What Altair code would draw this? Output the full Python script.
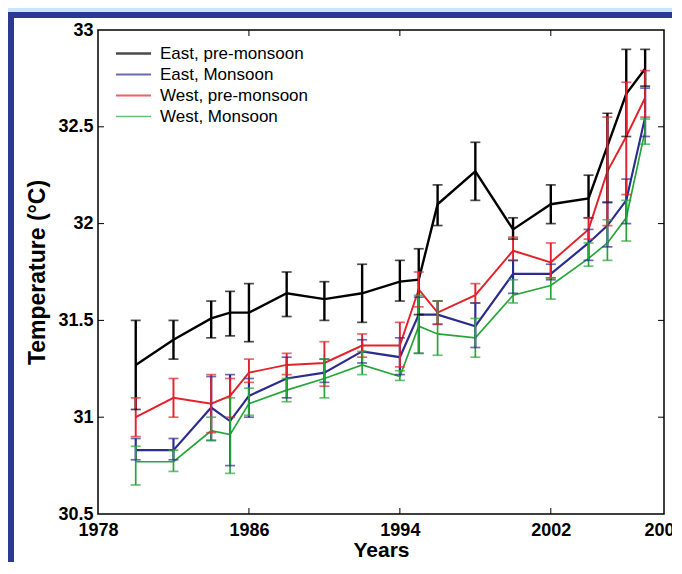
import altair as alt
import pandas as pd

# ---------------- data ----------------
years = [1980, 1982, 1984, 1985, 1986, 1988, 1990, 1992, 1994, 1995,
         1996, 1998, 2000, 2002, 2004, 2005, 2006, 2007]
series_names = ["East, pre-monsoon", "East, Monsoon", "West, pre-monsoon", "West, Monsoon"]
series_colors = ["#000000", "#2b2c8e", "#e3222b", "#25a638"]
series_widths = [2.4, 1.7, 1.7, 1.7]

east_pre = [31.27, 31.40, 31.51, 31.54, 31.54, 31.64, 31.61, 31.64, 31.70, 31.71,
            32.10, 32.27, 31.97, 32.10, 32.13, 32.40, 32.67, 32.80]
east_pre_lo = [31.04, 31.30, 31.41, 31.42, 31.39, 31.52, 31.50, 31.49, 31.60, 31.53,
               31.99, 32.12, 31.92, 32.00, 32.03, 32.11, 32.45, 32.71]
east_pre_hi = [31.50, 31.50, 31.60, 31.65, 31.69, 31.75, 31.70, 31.79, 31.81, 31.87,
               32.20, 32.42, 32.03, 32.20, 32.25, 32.57, 32.90, 32.90]

east_mon = [30.83, 30.83, 31.05, 30.98, 31.11, 31.20, 31.23, 31.34, 31.31, 31.53,
            31.53, 31.47, 31.74, 31.74, 31.90, 31.99, 32.12, 32.55]
east_mon_lo = [30.78, 30.78, 30.88, 30.75, 31.00, 31.10, 31.18, 31.28, 31.22, 31.33,
               31.48, 31.36, 31.64, 31.71, 31.81, 31.88, 32.00, 32.45]
east_mon_hi = [30.89, 30.89, 31.21, 31.22, 31.20, 31.31, 31.30, 31.40, 31.41, 31.62,
               31.60, 31.59, 31.81, 31.79, 31.97, 32.11, 32.23, 32.70]

west_pre = [31.00, 31.10, 31.07, 31.11, 31.23, 31.27, 31.28, 31.37, 31.37, 31.66,
            31.54, 31.63, 31.86, 31.80, 31.97, 32.27, 32.45, 32.65]
west_pre_lo = [30.90, 31.00, 30.92, 31.00, 31.18, 31.22, 31.16, 31.31, 31.26, 31.57,
               31.48, 31.59, 31.81, 31.72, 31.92, 31.99, 32.15, 32.55]
west_pre_hi = [31.10, 31.20, 31.22, 31.20, 31.30, 31.33, 31.39, 31.43, 31.49, 31.75,
               31.60, 31.69, 31.93, 31.90, 32.03, 32.55, 32.73, 32.79]

west_mon = [30.77, 30.77, 30.93, 30.91, 31.07, 31.14, 31.20, 31.27, 31.21, 31.47,
            31.43, 31.41, 31.63, 31.68, 31.82, 31.90, 32.03, 32.48]
west_mon_lo = [30.65, 30.72, 30.88, 30.71, 31.01, 31.08, 31.10, 31.22, 31.19, 31.33,
               31.32, 31.31, 31.59, 31.61, 31.78, 31.81, 31.91, 32.41]
west_mon_hi = [30.85, 30.83, 31.00, 31.10, 31.15, 31.20, 31.30, 31.34, 31.24, 31.63,
               31.60, 31.51, 31.71, 31.72, 31.90, 32.02, 32.12, 32.54]

x_ticks = [1978, 1986, 1994, 2002, 2008]
y_ticks = [30.5, 31, 31.5, 32, 32.5, 33]
x_inner_ticks = [1986, 1994, 2002]
y_inner_ticks = [31, 31.5, 32, 32.5]

# ---------------- table ----------------
rows = []
for name, vals, lo, hi in [
    (series_names[0], east_pre, east_pre_lo, east_pre_hi),
    (series_names[1], east_mon, east_mon_lo, east_mon_hi),
    (series_names[2], west_pre, west_pre_lo, west_pre_hi),
    (series_names[3], west_mon, west_mon_lo, west_mon_hi),
]:
    for yr, v, l, h in zip(years, vals, lo, hi):
        rows.append({"year": yr, "series": name, "temp": v, "low": l, "high": h})
df = pd.DataFrame(rows)

W, H = 566, 484
FONT = "Liberation Sans"

xscale = alt.Scale(domain=[1978, 2008], nice=False, zero=False)
yscale = alt.Scale(domain=[30.5, 33], nice=False, zero=False)
cscale = alt.Scale(domain=series_names, range=series_colors)
wscale = alt.Scale(domain=series_names, range=series_widths)

xaxis = alt.Axis(values=x_ticks, format="d", ticks=False, domain=False, grid=False,
                 labelFont=FONT, labelFontSize=18, labelFontWeight="bold",
                 labelColor="black", labelPadding=7, labelFlush=False,
                 titleFont=FONT, titleFontSize=21, titleFontWeight="bold",
                 titleColor="black", titlePadding=0, zindex=2)
yaxis = alt.Axis(values=y_ticks, format="~g", ticks=False, domain=False, grid=False,
                 labelFont=FONT, labelFontSize=18, labelFontWeight="bold",
                 labelColor="black", labelPadding=5, labelFlush=False,
                 titleFont=FONT, titleFontSize=23, titleFontWeight="bold",
                 titleColor="black", titlePadding=8, zindex=2)
legend = alt.Legend(title=None, orient="none", legendX=27, legendY=15,
                    symbolType="M-5,0H5", symbolSize=49, symbolStrokeWidth=2,
                    labelFont=FONT, labelFontSize=17, labelColor="black",
                    labelOffset=18, rowPadding=3, padding=0, zindex=2)
XT, YT = "Years", "Temperature (°C)"

def X(field):
    return alt.X(field, scale=xscale, axis=xaxis, title=XT)

def Y(field):
    return alt.Y(field, scale=yscale, axis=yaxis, title=YT)

col = alt.Color("series:N", scale=cscale, sort=series_names, legend=legend)
wid = alt.StrokeWidth("series:N", scale=wscale, legend=None)

one = alt.Data(values=[{}])

border = alt.Chart(one).mark_rect(fill="#2c3895").encode(
    x=alt.value(-90), x2=alt.value(700), y=alt.value(-18), y2=alt.value(620))
panel = alt.Chart(one).mark_rect(fill="#ffffff").encode(
    x=alt.value(-84), x2=alt.value(700), y=alt.value(-12), y2=alt.value(620))

base = alt.Chart(df)

lines = base.mark_line().encode(x=X("year:Q"), y=Y("temp:Q"), color=col, strokeWidth=wid)
bars = base.mark_rule().encode(x=X("year:Q"), y=Y("low:Q"), y2="high:Q",
                               color=col, strokeWidth=wid)
caps_lo = base.mark_tick(orient="horizontal", size=10, thickness=1.7).encode(
    x=X("year:Q"), y=Y("low:Q"), color=col)
caps_hi = base.mark_tick(orient="horizontal", size=10, thickness=1.7).encode(
    x=X("year:Q"), y=Y("high:Q"), color=col)

tick_x = pd.DataFrame({"t": x_inner_ticks})
tick_y = pd.DataFrame({"t": y_inner_ticks})
ticks_bottom = alt.Chart(tick_x).mark_rule(color="black", strokeWidth=1).encode(
    x=X("t:Q"), y=alt.value(H), y2=alt.value(H - 6))
ticks_top = alt.Chart(tick_x).mark_rule(color="black", strokeWidth=1).encode(
    x=X("t:Q"), y=alt.value(0), y2=alt.value(6))
ticks_left = alt.Chart(tick_y).mark_rule(color="black", strokeWidth=1).encode(
    y=Y("t:Q"), x=alt.value(0), x2=alt.value(6))
ticks_right = alt.Chart(tick_y).mark_rule(color="black", strokeWidth=1).encode(
    y=Y("t:Q"), x=alt.value(W), x2=alt.value(W - 6))

frame = alt.Chart(one).mark_rect(filled=False, stroke="black", strokeWidth=1.5).encode(
    x=alt.value(0), x2=alt.value(W), y=alt.value(0), y2=alt.value(H))

chart = alt.layer(
    border, panel, lines, bars, caps_lo, caps_hi,
    ticks_bottom, ticks_top, ticks_left, ticks_right, frame
).properties(
    width=W, height=H,
    padding={"left": 90, "top": 22, "right": 8, "bottom": 48},
    autosize=alt.AutoSizeParams(type="none"),
    background="#c5e7f7",
).configure_view(stroke=None)

chart.save("out.html", embed_options={"renderer": "svg", "actions": False})
